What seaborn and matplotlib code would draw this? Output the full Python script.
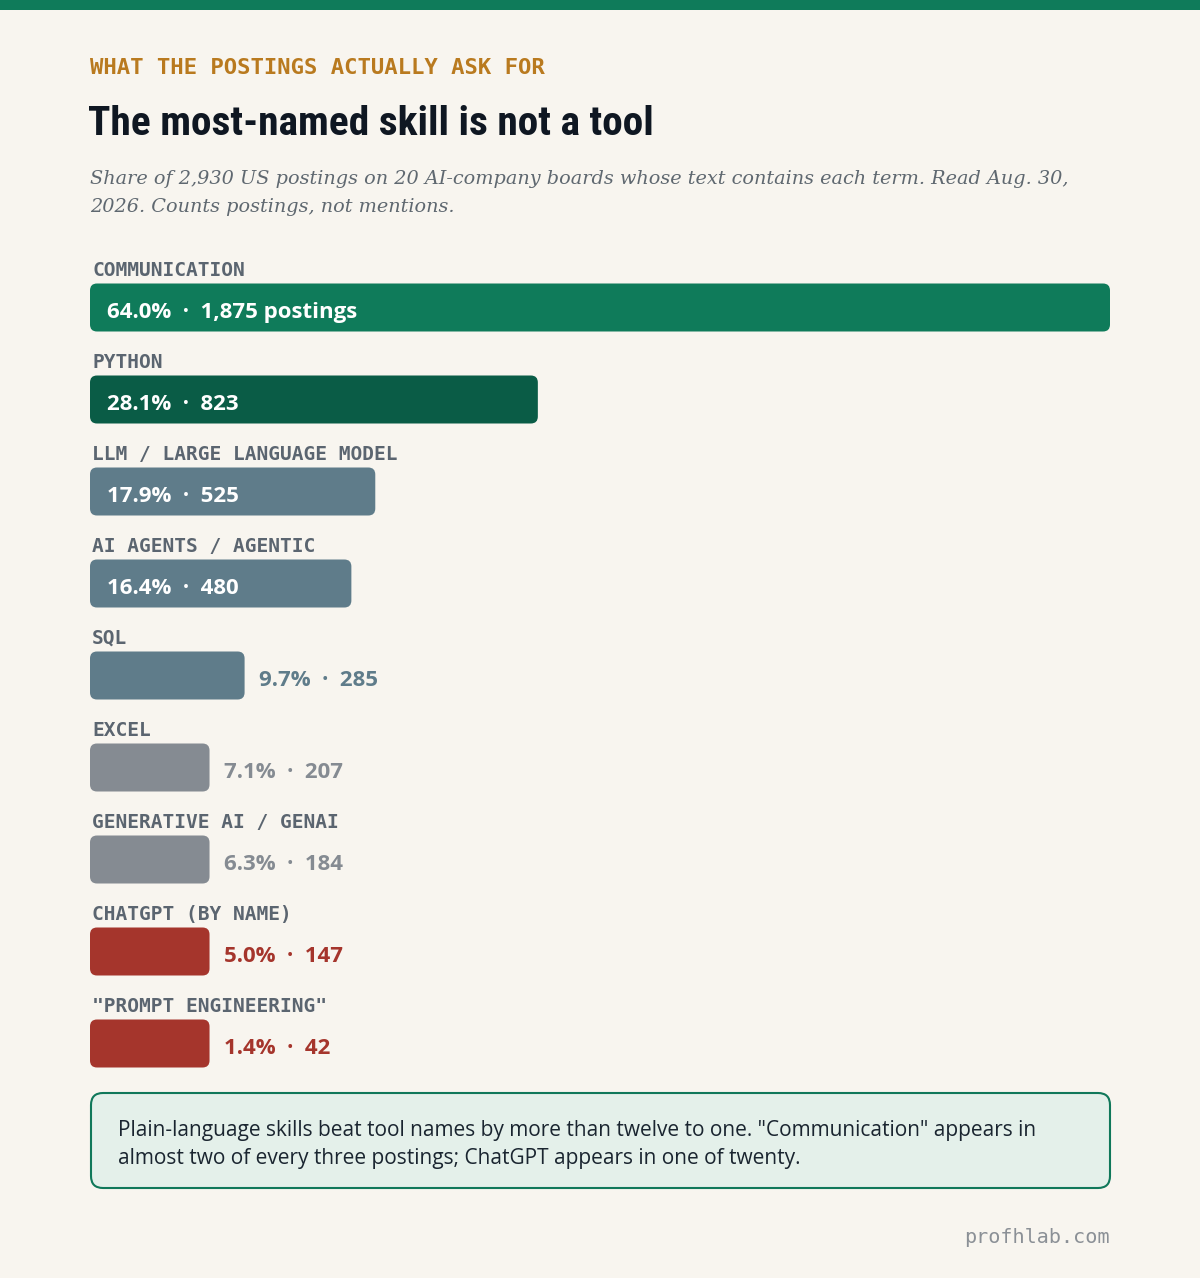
import numpy as np
import pandas as pd
import seaborn as sns
import matplotlib.pyplot as plt
from matplotlib.patches import FancyBboxPatch, Rectangle

# data
skills = [
    "COMMUNICATION",
    "PYTHON",
    "LLM / LARGE LANGUAGE MODEL",
    "AI AGENTS / AGENTIC",
    "SQL",
    "EXCEL",
    "GENERATIVE AI / GENAI",
    "CHATGPT (BY NAME)",
    '"PROMPT ENGINEERING"',
]
shares = [64.0, 28.1, 17.9, 16.4, 9.7, 7.1, 6.3, 5.0, 1.4]
counts = [1875, 823, 525, 480, 285, 207, 184, 147, 42]
bar_colors = ["#0f7b5a", "#0a5c46", "#5f7c8a", "#5f7c8a", "#5f7c8a",
              "#858b92", "#858b92", "#a5352c", "#a5352c"]

MIN_BAR = 7.5       # shortest bar drawn, in percent
INSIDE_FROM = 12.0  # values from here get the label inside the bar

BG = "#f8f5ef"
W, H = 1200, 1278

sns.set_theme(style="white")
plt.rcParams["font.family"] = ["DejaVu Sans"]

df = pd.DataFrame({"skill": skills, "share": shares, "count": counts})
df["bar_len"] = np.maximum(df["share"], MIN_BAR)

fig = plt.figure(figsize=(W / 100, H / 100), dpi=100, facecolor=BG)

# background axes in pixel units for the layout pieces
bg = fig.add_axes([0, 0, 1, 1], zorder=0)
bg.set_xlim(0, W)
bg.set_ylim(H, 0)
bg.axis("off")
bg.set_facecolor(BG)

bg.add_patch(Rectangle((0, 0), W, 10, color="#0f7b5a", lw=0))

bg.text(90, 74, "WHAT THE POSTINGS ACTUALLY ASK FOR", family="DejaVu Sans Mono",
        fontweight="bold", fontsize=16, color="#b97a1f", va="baseline")
title_fonts = ["Roboto Condensed", "DejaVu Sans Condensed", "Liberation Sans Narrow",
               "Roboto", "DejaVu Sans"]
bg.text(88, 135, "The most-named skill is not a tool", family=title_fonts,
        fontstretch="condensed", fontweight="bold", fontsize=29.8, color="#0f1722",
        va="baseline")
sub_lines = [
    "Share of 2,930 US postings on 20 AI-company boards whose text contains each term. Read Aug. 30,",
    "2026. Counts postings, not mentions.",
]
for k, line in enumerate(sub_lines):
    bg.text(90, 184 + 28 * k, line, family="DejaVu Serif", style="italic",
            fontsize=13.9, color="#5f6870", va="baseline")

# callout box
bg.add_patch(FancyBboxPatch((91, 1093), 1019, 95, boxstyle="round,pad=0,rounding_size=12",
                            fc="#e4f0ea", ec="#10785a", lw=1.5))
note_lines = [
    'Plain-language skills beat tool names by more than twelve to one. "Communication" appears in',
    "almost two of every three postings; ChatGPT appears in one of twenty.",
]
for k, line in enumerate(note_lines):
    bg.text(118, 1136 + 28 * k, line, family="Open Sans", fontsize=15,
            color="#1a2530", va="baseline")

bg.text(1110, 1243, "profhlab.com", family="DejaVu Sans Mono", fontsize=14.5,
        color="#8b9096", ha="right", va="baseline")

# bar axes: 64% spans 90..1110 px, rows 92 px apart
ax = fig.add_axes([90 / W, 1 - 1089.5 / H, 1020 / W, 851 / H], zorder=1)
ax.patch.set_alpha(0)
sns.barplot(data=df, x="bar_len", y="skill", hue="skill", palette=bar_colors,
            legend=False, orient="h", width=48 / 92, ax=ax, saturation=1)
ax.set_xlim(0, 64)
ax.set_ylim(8.5, -0.75)
ax.axis("off")

# swap plain rectangles for rounded ones
px_x = 1020 / 64
px_y = 92
radius_px = 7
for p in list(ax.patches):
    x0, y0 = p.get_x(), p.get_y()
    w, h = p.get_width(), p.get_height()
    fc = p.get_facecolor()
    p.remove()
    ax.add_patch(FancyBboxPatch((x0, y0), w, h,
                                boxstyle=f"round,pad=0,rounding_size={radius_px / px_x}",
                                mutation_aspect=px_x / px_y, fc=fc, ec="none"))

for i, row in df.iterrows():
    ax.annotate(row["skill"], xy=(0, i), xytext=(2, 31.5), textcoords="offset pixels",
                family="DejaVu Sans Mono", fontweight="bold", fontsize=14,
                color="#5b6570", va="baseline", ha="left")
    label = f"{row['share']:.1f}%  ·  {row['count']:,}"
    if i == 0:
        label += " postings"
    if row["share"] >= INSIDE_FROM:
        ax.annotate(label, xy=(0, i), xytext=(17, -10.5), textcoords="offset pixels",
                    family="Open Sans", fontweight="bold", fontsize=16,
                    color="white", va="baseline")
    else:
        ax.annotate(label, xy=(row["bar_len"], i), xytext=(14, -10.5),
                    textcoords="offset pixels", family="Open Sans", fontweight="bold",
                    fontsize=16, color=bar_colors[i], va="baseline")

fig.savefig("out.png", dpi=100, facecolor=BG)
